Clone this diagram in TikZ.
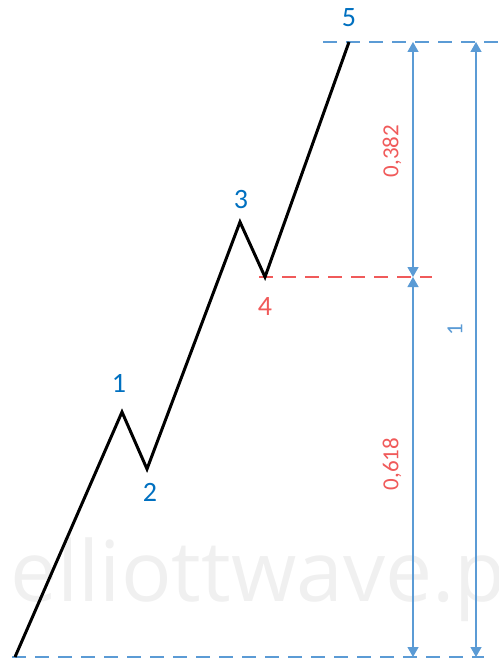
\documentclass[tikz,border=0pt]{standalone}
\usepackage{fontspec}
\setmainfont{Carlito}
\newfontfamily\wmfont{Open Sans}
\usetikzlibrary{arrows.meta}
\definecolor{lblblue}{HTML}{0070C0}
\definecolor{dimblue}{HTML}{5B9BD5}
\definecolor{fibred}{HTML}{F05A5A}
\definecolor{wmgray}{HTML}{F0F0F0}
\tikzset{
  wave/.style={line width=3pt, line join=miter},
  lvl/.style={dimblue, line width=2pt, dash pattern=on 14pt off 9pt},
  redlvl/.style={fibred, line width=2pt, dash pattern=on 14pt off 9pt},
  dim/.style={dimblue, line width=1.3pt, {Triangle[width=11pt,length=10pt]}-{Triangle[width=11pt,length=10pt]}},
  wlab/.style={lblblue, font=\fontsize{28}{28}\selectfont, inner sep=0pt},
  rlab/.style={fibred, font=\fontsize{28}{28}\selectfont, inner sep=0pt},
  vlab/.style={font=\fontsize{23}{23}\selectfont, rotate=90, inner sep=0pt}
}
\begin{document}
\begin{tikzpicture}[x=1pt,y=-1pt]
\useasboundingbox (0,0) rectangle (498,660);
\clip (0,0) rectangle (498,660);
% watermark
\node[anchor=base west, inner sep=0pt, text=wmgray, font=\wmfont\fontsize{84}{84}\selectfont] (wm) at (10,601) {elliottwave.pl};
% wave points
\coordinate (p0) at (15,657);
\coordinate (p1) at (122,412);
\coordinate (p2) at (147,469);
\coordinate (p3) at (240,222);
\coordinate (p4) at (265,277);
\coordinate (p5) at (349,42);
% level lines
\coordinate (topL) at (323,42);
\coordinate (topR) at (498,42);
\coordinate (midL) at (259,277);
\coordinate (midR) at (432,277);
\coordinate (botL) at (12,657);
\coordinate (botR) at (484,657);
\draw[lvl] (topL) -- (topR);
\draw[lvl] (botL) -- (botR);
\draw[redlvl] (midL) -- (midR);
% dimension lines
\coordinate (a1) at (413,42);
\coordinate (a2) at (413,277);
\coordinate (a3) at (413,657);
\coordinate (b1) at (476,42);
\coordinate (b2) at (476,657);
\draw[dim] (a1) -- (a2);
\draw[dim] (a2) -- (a3);
\draw[dim] (b1) -- (b2);
% wave
\draw[wave] (p0) -- (p1) -- (p2) -- (p3) -- (p4) -- (p5);
% labels
\node[wlab] (l1) at (119,383) {1};
\node[wlab] (l2) at (150,492) {2};
\node[wlab] (l3) at (241,200) {3};
\node[rlab] (l4) at (265,307) {4};
\node[wlab] (l5) at (349,18) {5};
\node[vlab, text=fibred] (r382) at (392,151) {0,382};
\node[vlab, text=fibred] (r618) at (392,464) {0,618};
\node[vlab, text=dimblue] (r1) at (455,330) {1};
\end{tikzpicture}
\end{document}
